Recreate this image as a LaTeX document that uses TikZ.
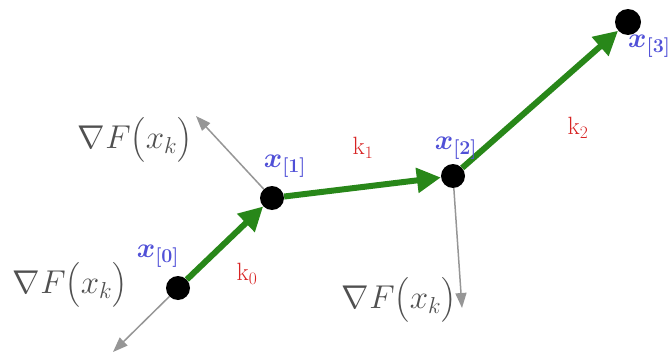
\RequirePackage{fix-cm}
\documentclass[tikz,border=0pt]{standalone}
\usepackage{amsmath,bm}
\usetikzlibrary{arrows.meta}
\definecolor{gstep}{RGB}{40,135,25}
\definecolor{glab}{RGB}{80,80,80}
\definecolor{garr}{RGB}{150,150,150}
\definecolor{xlab}{RGB}{80,80,215}
\definecolor{klab}{RGB}{215,35,35}
\tikzset{
  dot/.style={circle,fill=black,inner sep=0pt,minimum size=24pt},
  stepline/.style={draw=gstep,line width=6pt,-{Triangle[length=24pt,width=24pt]}},
  gradline/.style={draw=garr,line width=1.5pt,-{Triangle[length=15pt,width=11pt]}},
  gradlab/.style={text=glab,font=\fontsize{33}{38}\selectfont,inner sep=0pt},
  xname/.style={text=xlab,font=\fontsize{28}{32}\selectfont,inner sep=0pt},
  kname/.style={text=klab,font=\fontsize{25}{29}\selectfont,inner sep=0pt}
}
\begin{document}
\begin{tikzpicture}[x=1pt,y=-1pt]
\useasboundingbox (0,0) rectangle (670,356);
\node[dot] (x0) at (178,288) {};
\node[dot] (x1) at (272,198) {};
\node[dot] (x2) at (453,176) {};
\node[dot,minimum size=26pt] (x3) at (628,22) {};
\coordinate (g1) at (196,116);
\coordinate (g0) at (113,352);
\coordinate (g2) at (462,308);
\draw[gradline] (x1) -- (g1);
\draw[gradline] (x0) -- (g0);
\draw[gradline] (x2) -- (g2);
\draw[stepline] (x0) -- (x1);
\draw[stepline] (x1) -- (x2);
\draw[stepline] (x2) -- (x3);
\node[gradlab] (n1) at (135,140) {$\nabla F\bigl(x_k\bigr)$};
\node[gradlab] (n0) at (70,285) {$\nabla F\bigl(x_k\bigr)$};
\node[gradlab] (n2) at (399,300) {$\nabla F\bigl(x_k\bigr)$};
\node[xname] (l0) at (158,256) {$\bm{x}_{\bm{[0]}}$};
\node[xname] (l1) at (285,166) {$\bm{x}_{\bm{[1]}}$};
\node[xname] (l2) at (456,148) {$\bm{x}_{\bm{[2]}}$};
\node[xname,anchor=west] (l3) at (628,46) {$\bm{x}_{\bm{[3]}}$};
\node[kname] (k0) at (247,274) {k$_0$};
\node[kname] (k1) at (363,148) {k$_1$};
\node[kname] (k2) at (578,128) {k$_2$};
\end{tikzpicture}
\end{document}
